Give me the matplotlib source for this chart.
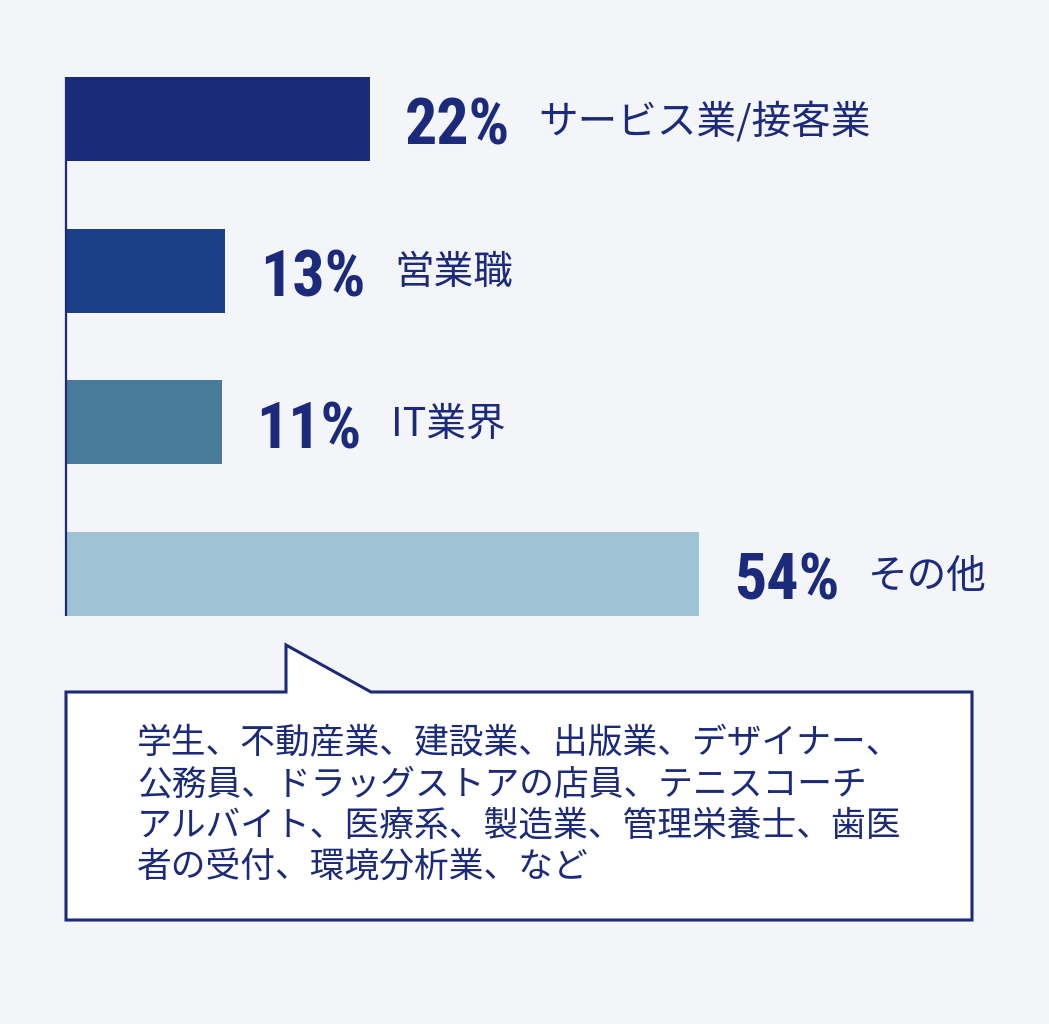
import matplotlib.pyplot as plt
from matplotlib.patches import Polygon

#----Datos----
categorias = ["サービス業/接客業", "営業職", "IT業界", "その他"]
porcentajes = [22, 13, 11, 54]            # valores rotulados
largo_barra = [25.9, 13.6, 13.3, 54.0]    # largo dibujado de cada barra
colores = ["#1a2b7c", "#1b4088", "#4a7a99", "#9dc3d5"]
detalle = ["学生、不動産業、建設業、出版業、デザイナー、",
           "公務員、ドラッグストアの店員、テニスコーチ",
           "アルバイト、医療系、製造業、管理栄養士、歯医",
           "者の受付、環境分析業、など"]

navy = "#1b2a7b"
fondo = "#f3f5f8"
cjk = ["Noto Sans CJK JP", "DejaVu Sans"]
num = ["Roboto Condensed", "Liberation Sans Narrow", "DejaVu Sans"]

W, H = 1049, 1024
fig = plt.figure(figsize=(W / 100, H / 100), dpi=100, facecolor=fondo)

#----Barras (escala en %)----
px_x = 11.72   # px por punto porcentual
px_y = 151.7   # px entre barras
x0, y0 = 66, 119
ax = fig.add_axes([0, 0, 1, 1])
ax.set_xlim(-x0 / px_x, (W - x0) / px_x)
ax.set_ylim((H - y0) / px_y, -y0 / px_y)
ax.axis("off")

alto = 84 / px_y
pos = list(range(len(categorias)))
ax.barh(pos, largo_barra, height=alto, color=colores, zorder=2)
ax.vlines(0, -alto / 2, pos[-1] + alto / 2, color=navy, lw=1.6, zorder=3)

for i in pos:
    t = ax.annotate(f"{porcentajes[i]}%", xy=(largo_barra[i], i), xytext=(25, -6),
                    textcoords="offset points", va="center", ha="left",
                    fontsize=46, fontweight="bold", family=num, color=navy)
    ax.annotate(categorias[i], xy=(1, 0.5), xycoords=t, xytext=(21, 4),
                textcoords="offset points", va="center", ha="left",
                fontsize=28.5, family=cjk, color=navy)

#----Globo de texto----
ov = fig.add_axes([0, 0, 1, 1])
ov.set_xlim(0, W)
ov.set_ylim(H, 0)
ov.axis("off")
ov.patch.set_alpha(0)
globo = [(66, 692), (286, 692), (286, 645), (371, 692), (972, 692), (972, 920), (66, 920)]
ov.add_patch(Polygon(globo, closed=True, facecolor="white", edgecolor=navy,
                     lw=2.2, joinstyle="miter"))
ov.text(137, 726, "\n".join(detalle), va="top", ha="left", fontsize=25,
        family=cjk, color=navy, linespacing=1.23)

fig.savefig("out.png", dpi=100, facecolor=fondo)
